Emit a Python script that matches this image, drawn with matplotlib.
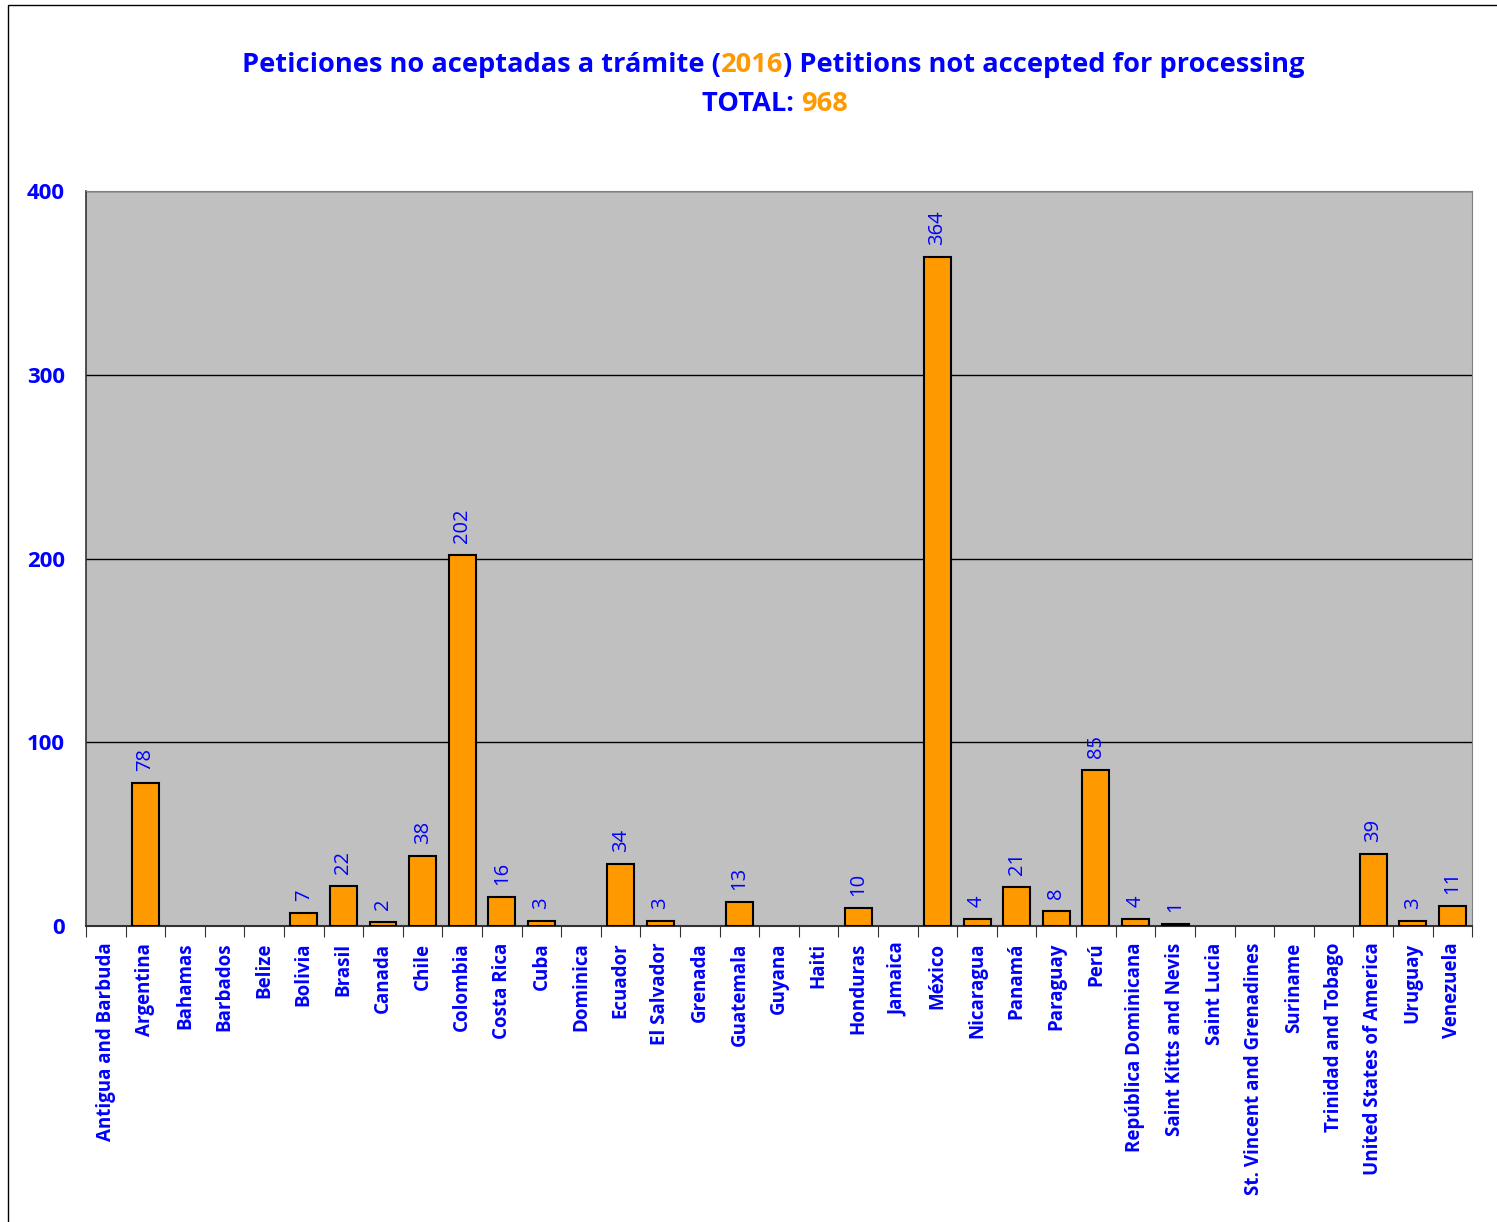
import matplotlib
matplotlib.use('Agg')
import matplotlib.pyplot as plt
from matplotlib.patches import Rectangle
import numpy as np

plt.rcParams['font.family'] = ['Open Sans', 'DejaVu Sans']

countries = ['Antigua and Barbuda', 'Argentina', 'Bahamas', 'Barbados', 'Belize', 'Bolivia',
             'Brasil', 'Canada', 'Chile', 'Colombia', 'Costa Rica', 'Cuba', 'Dominica',
             'Ecuador', 'El Salvador', 'Grenada', 'Guatemala', 'Guyana', 'Haiti', 'Honduras',
             'Jamaica', 'México', 'Nicaragua', 'Panamá', 'Paraguay', 'Perú',
             'República Dominicana', 'Saint Kitts and Nevis', 'Saint Lucia',
             'St. Vincent and Grenadines', 'Suriname', 'Trinidad and Tobago',
             'United States of America', 'Uruguay', 'Venezuela']
values = [0, 78, 0, 0, 0, 7, 22, 2, 38, 202, 16, 3, 0, 34, 3, 0, 13, 0, 0, 10,
          0, 364, 4, 21, 8, 85, 4, 1, 0, 0, 0, 0, 39, 3, 11]
year = '2016'
total = sum(values)

blue = '#0000FF'
orange = '#FF9900'

fig = plt.figure(figsize=(14.97, 12.22), dpi=100)
ax = fig.add_axes([0.0574, 0.2422, 0.926, 0.6015])
ax.set_facecolor('#C0C0C0')

x = np.arange(len(countries))
edge_w = [1.5 if v > 0 else 0 for v in values]
ax.bar(x, values, width=0.68, color=orange, edgecolor='black', linewidth=edge_w, zorder=3)

for xi, v in zip(x, values):
    if v > 0:
        ax.text(xi, v + 6.5, str(v), rotation=90, ha='center', va='bottom',
                color=blue, fontsize=14.5)

ax.set_xlim(-0.5, len(countries) - 0.5)
ax.set_ylim(0, 400)
ax.set_yticks([0, 100, 200, 300, 400])
ax.yaxis.grid(True, color='black', linewidth=1, zorder=1)
ax.tick_params(axis='y', labelcolor=blue, labelsize=16, length=0, pad=15)
for lab in ax.get_yticklabels():
    lab.set_fontweight('bold')

# ticks between categories, labels centred
ax.set_xticks(np.arange(-0.5, len(countries)), minor=False)
ax.set_xticklabels([])
ax.tick_params(axis='x', which='major', length=8, direction='out', color='#333333')
ax.set_xticks(x, minor=True)
ax.set_xticklabels(countries, minor=True, rotation=90, color=blue,
                   fontsize=13.5, fontweight='bold', va='top', ha='center')
ax.tick_params(axis='x', which='minor', length=0, pad=12)

for side in ['top', 'right']:
    ax.spines[side].set_color('#808080')
ax.spines['left'].set_color('#333333')
ax.spines['bottom'].set_color('#333333')
ax.spines['left'].set_linewidth(1.2)
ax.spines['bottom'].set_linewidth(1.5)

# title in two colours
r = fig.canvas.get_renderer()


def colour_line(parts, colours, y, xc):
    texts = []
    widths = []
    for s, c in zip(parts, colours):
        t = fig.text(0, y, s, color=c, fontsize=19.6, fontweight='bold', ha='left', va='center')
        texts.append(t)
        widths.append(t.get_window_extent(renderer=r).width / fig.bbox.width)
    start = xc - sum(widths) / 2
    for t, w in zip(texts, widths):
        t.set_x(start)
        start += w


colour_line(['Peticiones no aceptadas a trámite (', year, ') Petitions not accepted for processing'],
            [blue, orange, blue], 0.947, 0.5165)
colour_line(['TOTAL: ', str(total)], [blue, orange], 0.915, 0.5175)

fig.patches.append(Rectangle((0.0053, -0.01), 1.0, 1.006, transform=fig.transFigure,
                             fill=False, edgecolor='black', linewidth=1))

fig.savefig('out.png', dpi=100)
